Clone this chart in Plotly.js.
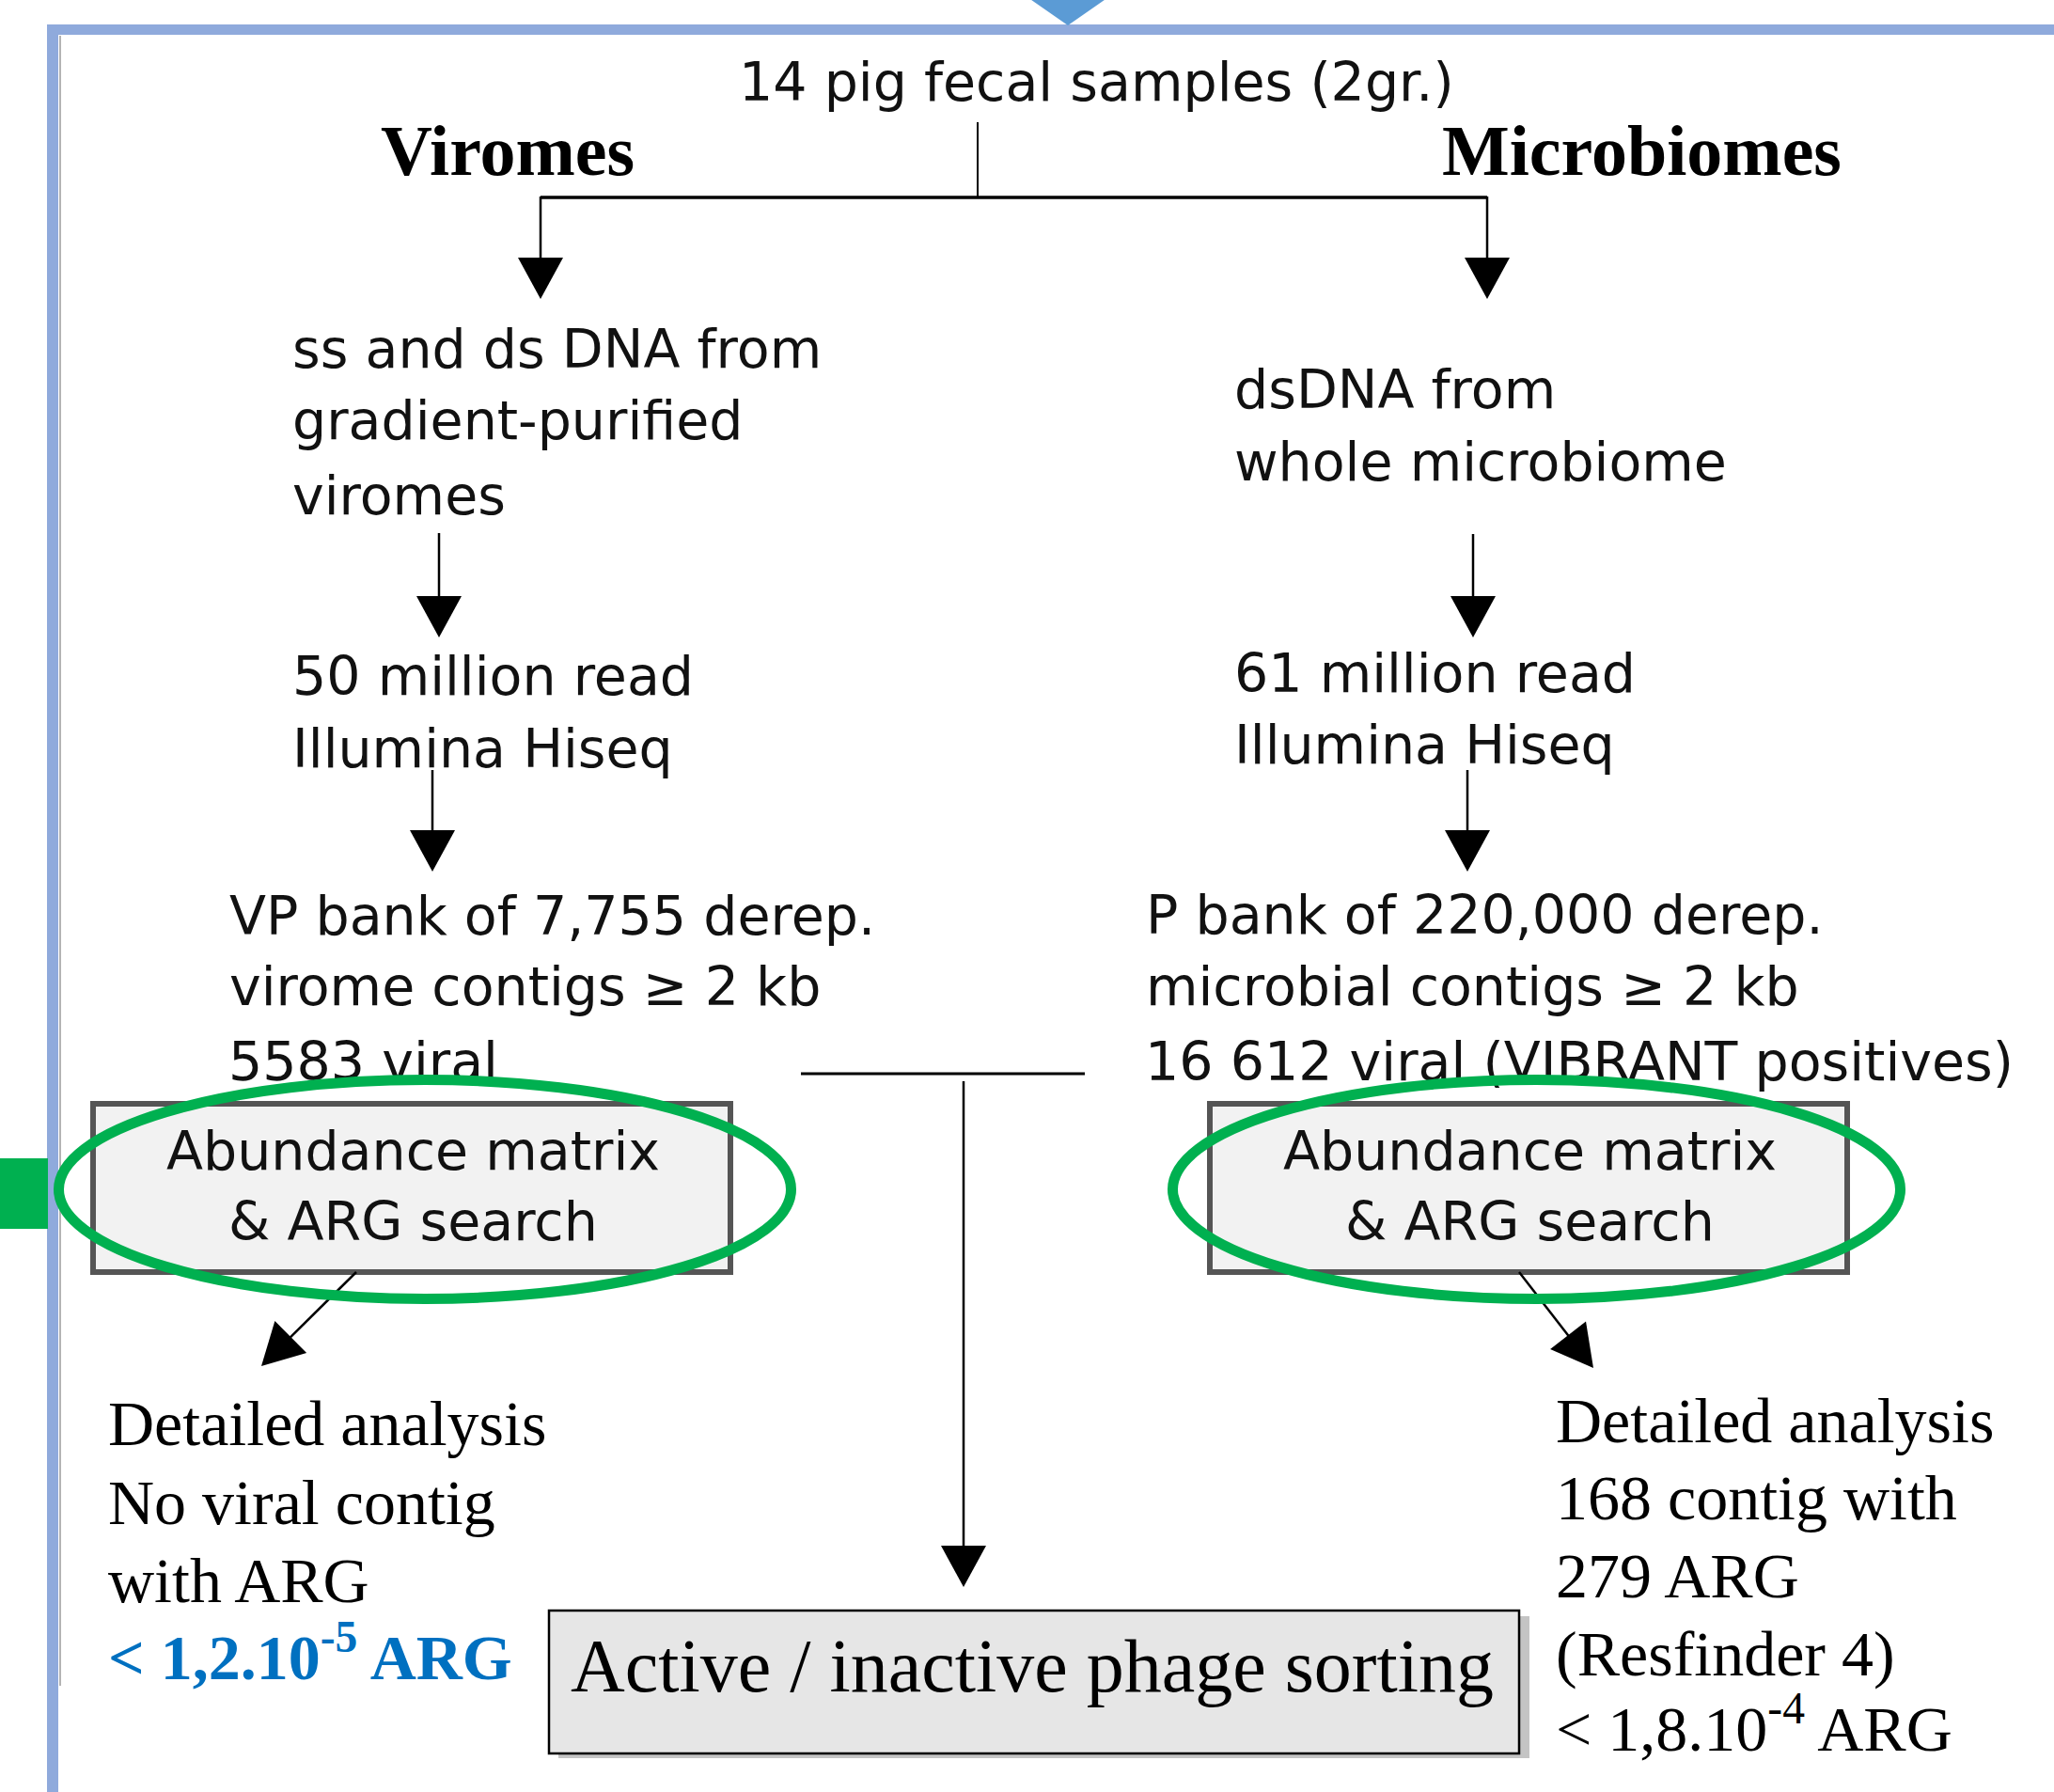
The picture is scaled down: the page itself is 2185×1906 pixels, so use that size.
<!DOCTYPE html>
<html>
<head>
<meta charset="utf-8">
<script src="https://cdn.plot.ly/plotly-3.0.1.min.js"></script>
<style>
html,body{margin:0;padding:0;background:#fff;}
#chart{width:2185px;height:1906px;}
</style>
</head>
<body>
<div id="chart"></div>
<script>
// ---------------- DATA (texts of the flowchart) ----------------
const topLabel = '14 pig fecal samples (2gr.)';
const branchTitles = ['Viromes', 'Microbiomes'];
const viromeStep1 = ['ss and ds DNA from', 'gradient-purified', 'viromes'];
const viromeStep2 = ['50 million read', 'Illumina Hiseq'];
const viromeStep3 = ['VP bank of 7,755 derep.', 'virome contigs \u2265 2 kb'];
const viromeViral = '5583 viral';
const microStep1 = ['dsDNA from', 'whole microbiome'];
const microStep2 = ['61 million read', 'Illumina Hiseq'];
const microStep3 = ['P bank of 220,000 derep.', 'microbial contigs \u2265 2 kb'];
const microViral = '16 612 viral (VIBRANT positives)';
const boxLabel = ['Abundance matrix', '& ARG search'];
const viromeResult = ['Detailed analysis', 'No viral contig', 'with ARG'];
const viromeARG = '< 1,2.10<sup>-5</sup> ARG';
const microResult = ['Detailed analysis', '168 contig with', '279 ARG', '(Resfinder 4)', '< 1,8.10<sup>-4</sup> ARG'];
const sortingLabel = 'Active / inactive phage sorting';

// ---------------- LAYOUT HELPERS ----------------
const W = 2185, H = 1906;
const shapes = [];
const annotations = [];
const SANS = {family: 'DejaVu Sans, sans-serif', size: 57, color: '#111111'};
const SERIF = {family: 'Liberation Serif, serif', size: 68, color: '#000000'};

function seg(x0, y0, x1, y1, w, c) {
  shapes.push({type: 'line', xref: 'x', yref: 'y', x0, y0, x1, y1,
    line: {color: c || '#000', width: w || 2.5}});
}
function rect(x0, y0, x1, y1, fill, lc, lw) {
  shapes.push({type: 'rect', xref: 'x', yref: 'y', x0, y0, x1, y1,
    fillcolor: fill, line: {color: lc || 'rgba(0,0,0,0)', width: lw || 0}});
}
function ell(x0, y0, x1, y1, c, w) {
  shapes.push({type: 'circle', xref: 'x', yref: 'y', x0, y0, x1, y1,
    fillcolor: 'rgba(0,0,0,0)', line: {color: c, width: w}});
}
function poly(pts, fill) {
  const p = pts.map((q, i) => (i ? 'L ' : 'M ') + q[0] + ' ' + q[1]).join(' ') + ' Z';
  shapes.push({type: 'path', xref: 'x', yref: 'y', path: p, fillcolor: fill, line: {width: 0}});
}
function arrow(x0, y0, x1, y1, lw) {
  const L = 44, HW = 24;
  const dx = x1 - x0, dy = y1 - y0, n = Math.hypot(dx, dy);
  const ux = dx / n, uy = dy / n;
  const bx = x1 - L * ux, by = y1 - L * uy;
  seg(x0, y0, bx + 2 * ux, by + 2 * uy, lw || 2.5);
  const px = -uy, py = ux;
  poly([[x1, y1], [bx + HW * px, by + HW * py], [bx - HW * px, by - HW * py]], '#000');
}
function txt(x, baseline, text, font, anchor) {
  const desc = font.family.indexOf('Serif') >= 0 ? 0.216 : 0.236;
  annotations.push({xref: 'x', yref: 'y', x: x, y: baseline + desc * font.size,
    text: text, showarrow: false, xanchor: anchor || 'left', yanchor: 'bottom',
    borderpad: 0, font: font});
}
function lines(x, baselines, arr, font, anchor) {
  arr.forEach((t, i) => txt(x, baselines[i], t, font, anchor));
}

// ---------------- FRAME ----------------
rect(50, 26, W + 5, 37, '#8FAADC');
rect(50, 26, 62, H + 5, '#8FAADC');
seg(64, 38, 64, 1793, 2, '#B4B4B4');
poly([[1090, -5], [1182, -5], [1136, 27]], '#5B9BD5');
rect(-5, 1232, 51, 1307, '#00B050');

// ---------------- TREE ----------------
seg(1040, 130, 1040, 210, 2);
seg(575, 210, 1582, 210, 3.5);
arrow(575, 209, 575, 318);
arrow(1582, 209, 1582, 318);
arrow(467, 567, 467, 678);
arrow(460, 819, 460, 927);
arrow(1567, 568, 1567, 678);
arrow(1561, 819, 1561, 927);
seg(852, 1142, 1154, 1142, 3);
arrow(1025, 1150, 1025, 1688);

// boxes
rect(99, 1174, 777, 1353, '#F2F2F2', '#555555', 6);
rect(1287, 1174, 1965, 1353, '#F2F2F2', '#555555', 6);
arrow(379, 1353, 278, 1453);
arrow(1616, 1353, 1695, 1455);
ell(62.5, 1148.5, 841.5, 1381.5, '#00B050', 11);
ell(1247.5, 1148.5, 2021.5, 1381.5, '#00B050', 11);

// bottom box with shadow
rect(594, 1719, 1627, 1870, '#C4C4C4');
rect(584, 1713, 1616, 1865, '#E6E6E6', '#000000', 2.5);

// ---------------- TEXTS ----------------
txt(785, 108, topLabel, SANS);
const titleFont = Object.assign({}, SERIF, {size: 76});
txt(404, 187, '<b>' + branchTitles[0] + '</b>', titleFont);
txt(1533, 187, '<b>' + branchTitles[1] + '</b>', titleFont);

lines(310, [392, 468, 548], viromeStep1, SANS);
lines(310, [740, 817], viromeStep2, SANS);
lines(243, [995, 1070], viromeStep3, SANS);
lines(1312, [435, 512], microStep1, SANS);
lines(1312, [737, 813], microStep2, SANS);
lines(1218, [994, 1070], microStep3, SANS);

lines(439, [1245, 1320], boxLabel, SANS, 'center');
lines(1627, [1245, 1320], boxLabel, SANS, 'center');

lines(114, [1538, 1622, 1705], viromeResult, SERIF);
txt(114, 1787, '<b>' + viromeARG + '</b>', Object.assign({}, SERIF, {color: '#0070C0'}));
lines(1654, [1535, 1617, 1700, 1783, 1863], microResult, SERIF);

txt(1098, 1800, sortingLabel, Object.assign({}, SERIF, {size: 80}), 'center');

// "viral" lines drawn as a text trace so the green ellipses pass over them
const viralY = 1155 - 0.35 * SANS.size;
const viralTrace = {
  type: 'scatter', mode: 'text',
  x: [243, 1218], y: [viralY, viralY],
  text: [viromeViral, microViral],
  textposition: 'middle right',
  textfont: SANS,
  hoverinfo: 'skip', showlegend: false
};

// ---------------- PLOT ----------------
const layout = {
  width: W, height: H,
  margin: {l: 0, r: 0, t: 0, b: 0, pad: 0},
  paper_bgcolor: '#ffffff', plot_bgcolor: '#ffffff',
  xaxis: {range: [0, W], visible: false, fixedrange: true},
  yaxis: {range: [H, 0], visible: false, fixedrange: true},
  showlegend: false,
  shapes: shapes,
  annotations: annotations
};
Plotly.newPlot('chart', [viralTrace], layout, {staticPlot: true, displayModeBar: false});
</script>
</body>
</html>
